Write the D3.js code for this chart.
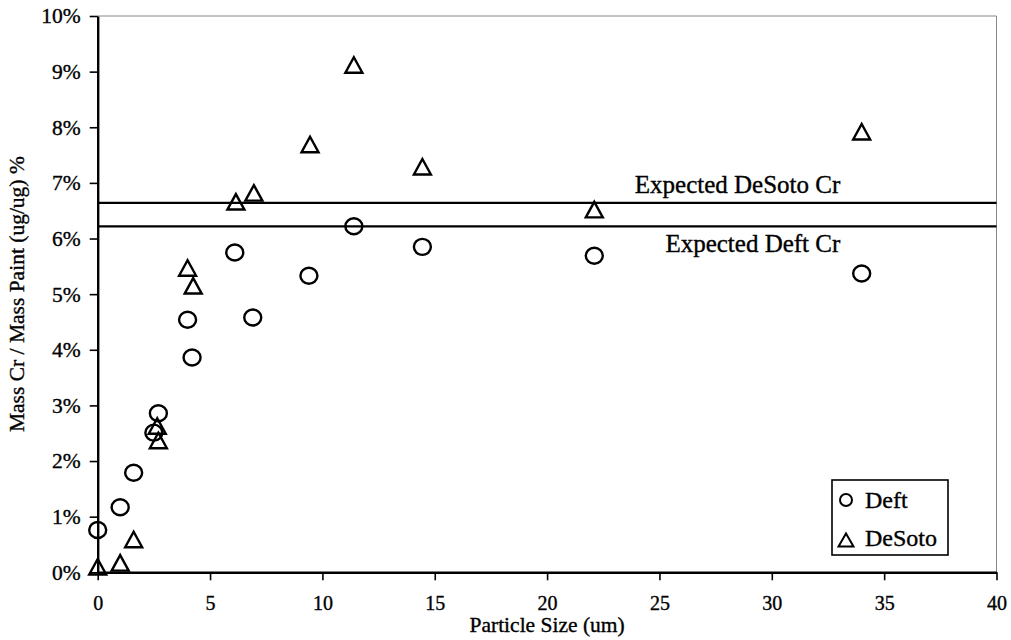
<html>
<head>
<style>
  body { margin: 0; background: #fff; }
  text { font-family: "Liberation Serif", "Times New Roman", serif; fill: #000; stroke: #000; stroke-width: 0.35px; }
</style>
</head>
<body>
<script src="https://cdn.jsdelivr.net/npm/d3@7/dist/d3.min.js"></script>

<div id="container1"></div>

<script>

// particle size (um) and Cr fraction (%)
const deftSize = [0, 1.0, 1.6, 2.7, 2.5, 4.0, 4.2, 6.1, 6.9, 9.4, 11.4, 14.45, 22.1, 34.0];
const deftCr   = [0.76, 1.17, 1.79, 2.86, 2.51, 4.54, 3.86, 5.75, 4.58, 5.33, 6.22, 5.85, 5.69, 5.37];

const desotoSize = [0, 1.0, 1.6, 2.65, 2.7, 4.0, 4.25, 6.15, 6.95, 9.45, 11.4, 14.45, 22.1, 34.0];
const desotoCr   = [0.1, 0.17, 0.59, 2.63, 2.37, 5.47, 5.15, 6.66, 6.82, 7.69, 9.12, 7.29, 6.52, 7.92];

const expectedNames  = ["Expected DeSoto Cr", "Expected Deft Cr"];
const expectedValues = [6.64, 6.22];

const xTicks = [0, 5, 10, 15, 20, 25, 30, 35, 40];
const yTicks = [0, 1, 2, 3, 4, 5, 6, 7, 8, 9, 10];

const margin = {top: 16, right: 14.5, bottom: 67.7, left: 97.7},
    width = 1011 - margin.left - margin.right,
    height = 640 - margin.top - margin.bottom;

const svg = d3.select("#container1")
  .append("svg")
    .attr("width", 1011)
    .attr("height", 640)
  .append("g")
    .attr("transform", `translate(${margin.left},${margin.top})`);

const x = d3.scaleLinear().domain([0, 40]).range([0, width]);
const y = d3.scaleLinear().domain([0, 10]).range([height, 0]);

// top / right frame (thin grey)
svg.append("path")
    .attr("d", `M0,0H${width}V${height}`)
    .attr("fill", "none")
    .attr("stroke", "#888")
    .attr("stroke-width", 1);

// x axis
const xAxis = svg.append("g")
    .attr("transform", `translate(0,${height})`)
    .call(d3.axisBottom(x).tickValues(xTicks).tickSize(8).tickSizeOuter(0).tickPadding(16));
xAxis.select(".domain").attr("stroke-width", 2.4);
xAxis.selectAll(".tick line").attr("stroke-width", 1.6);
xAxis.selectAll("text").style("font-size", "20px").attr("font-family", null);

// y axis
const yAxis = svg.append("g")
    .call(d3.axisLeft(y).tickValues(yTicks).tickSize(8).tickSizeOuter(0).tickPadding(9)
      .tickFormat(d => d + "%"));
yAxis.select(".domain").attr("stroke-width", 2.4);
yAxis.selectAll(".tick line").attr("stroke-width", 1.6);
yAxis.selectAll("text").style("font-size", "21.5px").attr("font-family", null);

// axis titles
svg.append("text")
    .attr("x", width / 2).attr("y", height + 60)
    .attr("text-anchor", "middle")
    .style("font-size", "21.5px")
    .text("Particle Size (um)");

svg.append("text")
    .attr("transform", `translate(${-margin.left + 24},${height / 2}) rotate(-90)`)
    .attr("text-anchor", "middle")
    .style("font-size", "21.5px")
    .text("Mass Cr / Mass Paint (ug/ug) %");

// expected lines
svg.selectAll(".expected")
  .data(expectedValues)
  .join("line")
    .attr("class", "expected")
    .attr("x1", x(0)).attr("x2", x(40))
    .attr("y1", d => y(d)).attr("y2", d => y(d))
    .attr("stroke", "#000")
    .attr("stroke-width", 2.2);

svg.selectAll(".expLabel")
  .data(expectedNames)
  .join("text")
    .attr("class", "expLabel")
    .attr("x", x(33.05))
    .attr("y", (d, i) => i === 0 ? y(expectedValues[i]) - 10 : y(expectedValues[i]) + 26)
    .attr("text-anchor", "end")
    .style("font-size", "25px")
    .text(d => d);

// markers
const tri = (w, h) => `M0,${-h/2}L${w/2},${h/2}L${-w/2},${h/2}Z`;

svg.selectAll(".deft")
  .data(deftSize.map((s, i) => [s, deftCr[i]]))
  .join("ellipse")
    .attr("class", "deft")
    .attr("cx", d => x(d[0]))
    .attr("cy", d => y(d[1]))
    .attr("rx", 8.5).attr("ry", 8)
    .attr("fill", "none")
    .attr("stroke", "#000")
    .attr("stroke-width", 2.4);

svg.selectAll(".desoto")
  .data(desotoSize.map((s, i) => [s, desotoCr[i]]))
  .join("path")
    .attr("class", "desoto")
    .attr("transform", d => `translate(${x(d[0])},${y(d[1])})`)
    .attr("d", tri(17, 15.5))
    .attr("fill", "none")
    .attr("stroke", "#000")
    .attr("stroke-width", 2.4)
    .attr("stroke-linejoin", "miter");

// legend
const legend = svg.append("g")
    .attr("transform", `translate(${832 - margin.left},${480 - margin.top})`);
legend.append("rect")
    .attr("width", 116).attr("height", 75)
    .attr("fill", "#fff")
    .attr("stroke", "#000")
    .attr("stroke-width", 1.6);
legend.append("circle")
    .attr("cx", 14).attr("cy", 20).attr("r", 6)
    .attr("fill", "none").attr("stroke", "#000").attr("stroke-width", 2);
legend.append("text")
    .attr("x", 33).attr("y", 28)
    .style("font-size", "24px")
    .text("Deft");
legend.append("path")
    .attr("transform", "translate(14,60)")
    .attr("d", tri(15, 13))
    .attr("fill", "none").attr("stroke", "#000").attr("stroke-width", 2);
legend.append("text")
    .attr("x", 33).attr("y", 66)
    .style("font-size", "24px")
    .text("DeSoto");

</script>
</body>
</html>
